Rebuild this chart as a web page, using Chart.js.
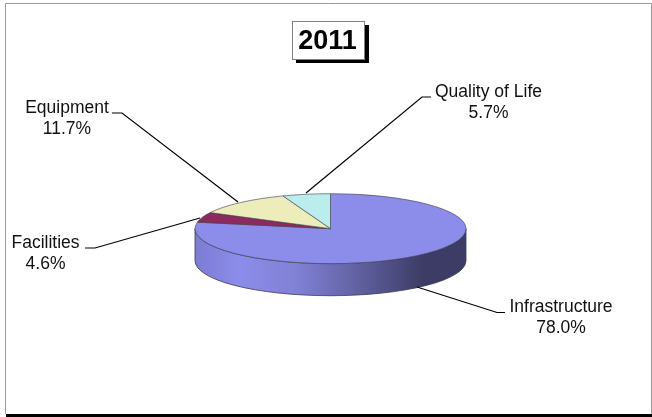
<!DOCTYPE html>
<html><head><meta charset="utf-8">
<style>html,body{margin:0;padding:0;background:#fff}canvas{display:block}#w{width:652px;height:417px;position:relative}</style>
<script src="https://cdn.jsdelivr.net/npm/chart.js@4"></script>
</head><body><div id="w"><canvas id="c" width="652" height="417"></canvas></div>
<script>
const categories = ['Infrastructure', 'Facilities', 'Equipment', 'Quality of Life'];
const shares = [78.0, 4.6, 11.7, 5.7];
const sliceColors = ['#8C8CEB', '#8C2A5E', '#EDEDBB', '#BBEDED'];
const chartTitle = '2011';

const FONT = '"Liberation Sans", Arial, sans-serif';
const SQUASH = 35 / 135.5, DEPTH = 32;
// label centre x, first-line baseline y, leader elbow & end
const callouts = [
  {x: 561, y: 312, edge: [417, 287], elbow: [497, 312.5], end: [505, 312.5]},
  {x: 45.5, y: 248, edge: [200, 218], elbow: [95, 248], end: [85, 248]},
  {x: 67,  y: 113, edge: [238, 202], elbow: [122, 113], end: [112, 113]},
  {x: 488.5, y: 97, edge: [306, 193], elbow: [422, 97], end: [431, 97]}
];

const pseudo3d = {
  id: 'pseudo3d',
  afterLayout(chart) {
    chart.titleBlock.left -= 3; chart.titleBlock.right -= 3;
  },
  beforeDraw(chart) {
    const c = chart.ctx;
    c.save();
    c.fillStyle = '#fff'; c.fillRect(0, 0, 652, 417);
    c.strokeStyle = '#9a9a9a'; c.lineWidth = 1;
    c.beginPath(); c.moveTo(5.5, 414); c.lineTo(5.5, 3.5); c.lineTo(651.5, 3.5); c.lineTo(651.5, 414); c.stroke();
    c.fillStyle = '#000'; c.fillRect(6, 414, 646, 3);
    // title box
    c.fillStyle = '#000'; c.fillRect(296, 25, 73, 38);
    c.fillStyle = '#fff'; c.fillRect(292, 21, 73, 39);
    c.strokeStyle = '#808080'; c.strokeRect(292.5, 21.5, 72, 38);
    c.restore();
  },
  beforeDatasetsDraw(chart) {
    const a = chart.getDatasetMeta(0).data[0];
    const c = chart.ctx, cx = a.x, cy = a.y, r = a.outerRadius;
    c.save();
    const g = c.createLinearGradient(cx - r, 0, cx + r, 0);
    g.addColorStop(0, '#7C7CD2');
    g.addColorStop(0.16, '#8C8CEB');
    g.addColorStop(0.38, '#8080D4');
    g.addColorStop(0.62, '#5E5E9C');
    g.addColorStop(0.84, '#3C3C66');
    g.addColorStop(1, '#3C3C66');
    c.beginPath();
    c.ellipse(cx, cy, r, r * SQUASH, 0, Math.PI, 0, true);
    c.lineTo(cx + r, cy + DEPTH);
    c.ellipse(cx, cy + DEPTH, r, r * SQUASH, 0, 0, Math.PI, false);
    c.closePath();
    c.fillStyle = g; c.fill();
    c.strokeStyle = '#3a3a55'; c.lineWidth = 0.8; c.stroke();
    c.restore();
    c.save();
    c.translate(cx, cy); c.scale(1, SQUASH); c.translate(-cx, -cy);
  },
  afterDatasetsDraw(chart) {
    chart.ctx.restore();
    const c = chart.ctx;
    c.save();
    c.strokeStyle = '#000'; c.lineWidth = 1.2;
    c.fillStyle = '#111';
    c.font = '17.5px ' + FONT; c.textAlign = 'center'; c.textBaseline = 'alphabetic';
    callouts.forEach((p, i) => {
      c.beginPath(); c.moveTo(...p.edge); c.lineTo(...p.elbow); c.lineTo(...p.end); c.stroke();
      c.fillText(categories[i], p.x, p.y);
      c.fillText(shares[i].toFixed(1) + '%', p.x, p.y + 20.5);
    });
    c.restore();
  }
};

new Chart(document.getElementById('c'), {
  type: 'pie',
  data: { labels: categories, datasets: [{ data: shares, backgroundColor: sliceColors, borderColor: '#3f3f4f', borderWidth: 1 }] },
  options: {
    responsive: false, animation: false, radius: 135.5,
    layout: { padding: { left: 9, right: 0, top: 0, bottom: 30 } },
    plugins: {
      legend: { display: false }, tooltip: { enabled: false },
      title: { display: true, text: chartTitle, color: '#000', font: { family: FONT, size: 27, weight: 'bold' }, padding: { top: 25, bottom: 13 } }
    }
  },
  plugins: [pseudo3d]
});
</script></body></html>
